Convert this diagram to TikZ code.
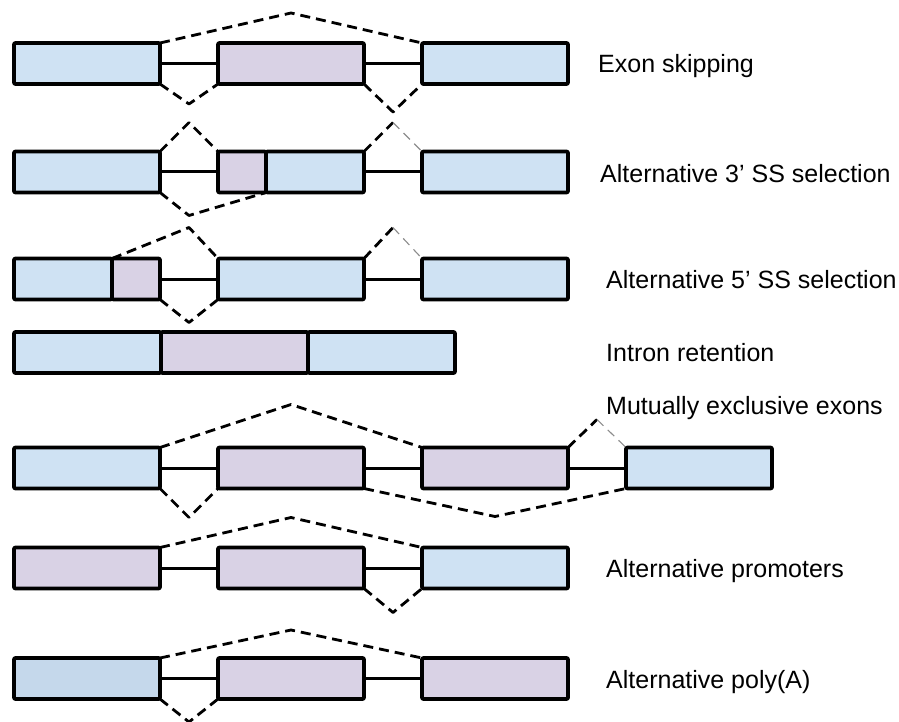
\documentclass[tikz,border=0pt]{standalone}
\usepackage{fontspec}
\setmainfont{Liberation Sans}
\usetikzlibrary{calc}
\usetikzlibrary{positioning}
\definecolor{exblue}{RGB}{207,226,243}
\definecolor{expurple}{RGB}{217,210,229}
\definecolor{exdblue}{RGB}{197,216,235}

\begin{document}
\begin{tikzpicture}[x=1pt,y=-1pt,line join=round] %% tikz
	\tikzstyle{exon}=[draw,line width=3.6pt,rounded corners=1pt,inner sep=0pt,outer sep=0pt,minimum width=146pt,minimum height=41pt,fill=exblue];
	\tikzstyle{alt}=[exon,fill=expurple];
	\tikzstyle{intron}=[line width=3pt];
	\tikzstyle{junc}=[line width=2.8pt,dash pattern=on 10pt off 6pt];
	\tikzstyle{faint}=[line width=1.1pt,black!45,dash pattern=on 9pt off 6pt];
	\tikzstyle{kind}=[anchor=base west,inner sep=0pt,font=\fontsize{25}{30}\selectfont];
	\useasboundingbox (0,0) rectangle (899,722);
	%% exon skipping
	\node[exon] (a1) at (87,63.5) {};
	\node[alt,right=58pt of a1] (b1) {};
	\node[exon,right=58pt of b1] (c1) {};
	\draw[intron] (a1.east) -- (b1.west);
	\draw[intron] (b1.east) -- (c1.west);
	\coordinate (p1) at ($(a1.north east)!0.5!(c1.north west)+(0,-30)$);
	\coordinate (v1) at ($(a1.south east)!0.5!(b1.south west)+(0,20)$);
	\coordinate (w1) at ($(b1.south east)!0.5!(c1.south west)+(0,28)$);
	\draw[junc] (a1.north east) -- (p1) -- (c1.north west);
	\draw[junc] (a1.south east) -- (v1) -- (b1.south west);
	\draw[junc] (b1.south east) -- (w1) -- (c1.south west);
	%% alternative 3' splice site
	\node[exon] (a2) at (87,172) {};
	\node[alt,minimum width=48pt,right=58pt of a2] (b2) {};
	\node[exon,minimum width=98pt,right=0pt of b2] (bb2) {};
	\node[exon,right=58pt of bb2] (c2) {};
	\draw[intron] (a2.east) -- (b2.west);
	\draw[intron] (bb2.east) -- (c2.west);
	\coordinate (p2) at ($(a2.north east)!0.5!(b2.north west)+(0,-29)$);
	\coordinate (q2) at ($(bb2.north east)!0.5!(c2.north west)+(0,-29)$);
	\coordinate (v2) at ($(a2.south east)!0.5!(b2.south west)+(0,23)$);
	\draw[junc] (a2.north east) -- (p2) -- (b2.north west);
	\draw[junc] (bb2.north east) -- (q2);
	\draw[faint] (q2) -- (c2.north west);
	\draw[junc] (a2.south east) -- (v2) -- (b2.south east);
	%% alternative 5' splice site
	\node[exon,minimum width=98pt] (a3) at (63,279) {};
	\node[alt,minimum width=48pt,right=0pt of a3] (aa3) {};
	\node[exon,right=58pt of aa3] (b3) {};
	\node[exon,right=58pt of b3] (c3) {};
	\draw[intron] (aa3.east) -- (b3.west);
	\draw[intron] (b3.east) -- (c3.west);
	\coordinate (p3) at ($(aa3.north east)!0.5!(b3.north west)+(0,-31)$);
	\coordinate (q3) at ($(b3.north east)!0.5!(c3.north west)+(0,-31)$);
	\coordinate (v3) at ($(aa3.south east)!0.5!(b3.south west)+(0,23)$);
	\draw[junc] (aa3.north west) -- (p3) -- (b3.north west);
	\draw[junc] (b3.north east) -- (q3);
	\draw[faint] (q3) -- (c3.north west);
	\draw[junc] (aa3.south east) -- (v3) -- (b3.south west);
	%% intron retention
	\node[exon,minimum width=147pt] (a4) at (87.5,352.5) {};
	\node[alt,minimum width=147pt,right=0pt of a4] (b4) {};
	\node[exon,minimum width=147pt,right=0pt of b4] (c4) {};
	%% mutually exclusive exons
	\node[exon] (a5) at (87,468) {};
	\node[alt,right=58pt of a5] (b5) {};
	\node[alt,right=58pt of b5] (c5) {};
	\node[exon,right=58pt of c5] (d5) {};
	\draw[intron] (a5.east) -- (b5.west);
	\draw[intron] (b5.east) -- (c5.west);
	\draw[intron] (c5.east) -- (d5.west);
	\coordinate (p5) at ($(a5.north east)!0.5!(c5.north west)+(0,-43)$);
	\coordinate (q5) at ($(c5.north east)!0.5!(d5.north west)+(0,-28)$);
	\coordinate (v5) at ($(a5.south east)!0.5!(b5.south west)+(0,29)$);
	\coordinate (w5) at ($(b5.south east)!0.5!(d5.south west)+(0,28)$);
	\draw[junc] (a5.north east) -- (p5) -- (c5.north west);
	\draw[junc] (c5.north east) -- (q5);
	\draw[faint] (q5) -- (d5.north west);
	\draw[junc] (a5.south east) -- (v5) -- (b5.south west);
	\draw[junc] (b5.south east) -- (w5) -- (d5.south west);
	%% alternative promoters
	\node[alt] (a6) at (87,568) {};
	\node[alt,right=58pt of a6] (b6) {};
	\node[exon,right=58pt of b6] (c6) {};
	\draw[intron] (a6.east) -- (b6.west);
	\draw[intron] (b6.east) -- (c6.west);
	\coordinate (p6) at ($(a6.north east)!0.5!(c6.north west)+(0,-30)$);
	\coordinate (v6) at ($(b6.south east)!0.5!(c6.south west)+(0,24)$);
	\draw[junc] (a6.north east) -- (p6) -- (c6.north west);
	\draw[junc] (b6.south east) -- (v6) -- (c6.south west);
	%% alternative poly(A)
	\node[exon,fill=exdblue] (a7) at (87,678.5) {};
	\node[alt,right=58pt of a7] (b7) {};
	\node[alt,right=58pt of b7] (c7) {};
	\draw[intron] (a7.east) -- (b7.west);
	\draw[intron] (b7.east) -- (c7.west);
	\coordinate (p7) at ($(a7.north east)!0.5!(c7.north west)+(0,-28)$);
	\coordinate (v7) at ($(a7.south east)!0.5!(b7.south west)+(0,23)$);
	\draw[junc] (a7.north east) -- (p7) -- (c7.north west);
	\draw[junc] (a7.south east) -- (v7) -- (b7.south west);
	%% labels
	\node[kind] (t1) at (598,73) {Exon skipping};
	\node[kind] (t2) at (600,183) {Alternative 3’ SS selection};
	\node[kind] (t3) at (606,288) {Alternative 5’ SS selection};
	\node[kind] (t4) at (606,361) {Intron retention};
	\node[kind] (t5) at (606,414) {Mutually exclusive exons};
	\node[kind] (t6) at (606,577) {Alternative promoters};
	\node[kind] (t7) at (606,688) {Alternative poly(A)};
\end{tikzpicture}
\end{document}
